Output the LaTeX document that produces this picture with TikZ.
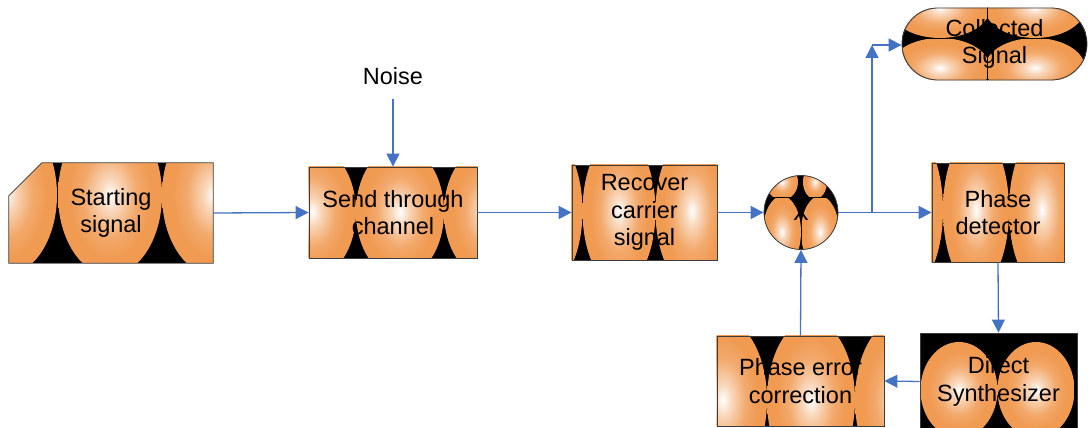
\documentclass[tikz,border=0pt]{standalone}
\usepackage{fontspec}
\setmainfont{Liberation Sans}
\usetikzlibrary{arrows.meta,backgrounds,calc}

\definecolor{orng}{RGB}{240,154,82}
\definecolor{link}{RGB}{68,114,196}
\definecolor{edge}{RGB}{60,60,60}

% soft white-to-orange blob used to fill the blocks
\pgfdeclareradialshading{blob}{\pgfpoint{0bp}{0bp}}{%
  color(0bp)=(white); color(5bp)=(orng!40!white); color(13bp)=(orng!85!white);
  color(20bp)=(orng); color(50bp)=(orng)}

% one shaded ellipse kept inside its own tile: x1 y1 x2 y2 | cx cy rx ry
\newcommand{\tileblob}[8]{%
  \begin{scope}
    \clip (#1,#2) rectangle (#3,#4);
    \shade[shading=blob] (#5,#6) ellipse ({#7pt} and {#8pt});
  \end{scope}}
% a full-height tile of half width #5 around cx
\newcommand{\blob}[5]{\tileblob{#1-#5}{-1000}{#1+#5}{1000}{#1}{#2}{#3}{#4}}
\newcommand{\darkbox}[1]{%
  \clip (#1.north west) rectangle (#1.south east);
  \fill[black] (#1.north west) rectangle (#1.south east);}

\tikzset{
  lbl/.style={font=\fontsize{23.5}{27.5}\selectfont, align=center, inner sep=0pt},
  outline/.style={draw=edge, line width=0.8pt},
  block/.style={lbl, outline, rectangle},
  seam/.style={draw=black, line width=0.6pt},
  flow/.style={draw=link, line width=1.3pt, -{Triangle[length=13pt,width=13pt]}},
}

\begin{document}
\begin{tikzpicture}[x=1pt,y=-1pt]
\useasboundingbox (0,0) rectangle (1088,428);

% blocks
\node[lbl, minimum width=204pt, minimum height=100pt] (start) at (111,213) {Starting\\signal};
\draw[outline] ($(start.north west)+(33,0)$) -- (start.north east) -- (start.south east)
  -- (start.south west) -- ($(start.north west)+(0,33)$) -- cycle;
\node[block, minimum width=168pt, minimum height=91pt] (send) at (393,212.5) {Send through\\channel};
\node[lbl] (noise) at (393,76) {Noise};
\node[block, minimum width=145pt, minimum height=95pt] (recover) at (644.5,212.5) {Recover\\carrier\\signal};
\node[lbl, outline, circle, minimum size=74pt] (mult) at (801,212.5) {X};
\node[block, minimum width=132pt, minimum height=99pt] (detector) at (998,212.5) {Phase\\detector};
\node[block, minimum width=157pt, minimum height=97pt] (synth) at (998.5,381.5) {Direct\\Synthesizer};
\node[block, minimum width=167pt, minimum height=90pt] (perr) at (800.5,381) {Phase error\\correction};
\node[block, rounded corners=36pt, minimum width=185pt, minimum height=72pt] (collected) at (994.5,44) {Collected\\Signal};

% block fills
\begin{pgfonlayer}{background}
  \begin{scope}
    \clip ($(start.north west)+(33,0)$) -- (start.north east) -- (start.south east)
      -- (start.south west) -- ($(start.north west)+(0,33)$) -- cycle;
    \fill[black] (start.north west) rectangle (start.south east);
    \blob{5}{195}{52}{80}{52}\blob{110}{195}{52}{80}{52}\blob{214}{195}{52}{80}{52}
  \end{scope}
  \begin{scope}
    \darkbox{send}
    \blob{312}{212}{44}{66}{44}\blob{400}{212}{44}{66}{44}\blob{488}{212}{44}{66}{44}
  \end{scope}
  \begin{scope}
    \darkbox{recover}
    \blob{546}{211}{36.5}{76}{36.5}\blob{619}{211}{36.5}{76}{36.5}\blob{692}{211}{36.5}{76}{36.5}
  \end{scope}
  \begin{scope}
    \darkbox{detector}
    \blob{910}{210}{33}{78}{33}\blob{976}{210}{33}{78}{33}\blob{1042}{210}{33}{78}{33}
  \end{scope}
  \begin{scope}
    \darkbox{synth}
    \blob{959}{390}{38.5}{48}{38.5}\blob{1036}{390}{38.5}{48}{38.5}
  \end{scope}
  \begin{scope}
    \darkbox{perr}
    \blob{723}{400}{44}{80}{44}\blob{811}{400}{44}{80}{44}\blob{899}{400}{44}{80}{44}
  \end{scope}
  \begin{scope}
    \clip (mult.center) circle (37pt);
    \fill[black] (mult.center) circle (37pt);
    \tileblob{760}{170}{801}{197}{782}{182}{16}{18}
    \tileblob{801}{170}{842}{197}{815}{182}{12}{17}
    \tileblob{760}{197}{801}{255}{782}{232}{19}{36}
    \tileblob{801}{197}{842}{255}{820}{232}{19}{36}
    \draw[seam] (mult.west |- 0,197) -- (mult.east |- 0,197);
    \draw[seam] (801,197) -- (mult.south);
  \end{scope}
  \begin{scope}
    \clip[rounded corners=36pt] (collected.north west) rectangle (collected.south east);
    \fill[black] (collected.north west) rectangle (collected.south east);
    \blob{940}{8}{50}{30}{47}\blob{1035}{8}{50}{30}{48}
    \blob{940}{68}{50}{30}{47}\blob{1035}{68}{50}{30}{48}
    \draw[seam] (collected.west |- 0,38) -- (collected.east |- 0,38);
    \draw[seam] (987,0) -- (987,90);
  \end{scope}
\end{pgfonlayer}

% signal flow
\coordinate (split) at (872,212.5);
\coordinate (bend) at (872,45);
\draw[flow] (start.east) -- (send.west);
\draw[flow, shorten <=14pt] (noise.south) -- (send.north);
\draw[flow] (send.east) -- (recover.west);
\draw[flow] (recover.east) -- (mult.west);
\draw[flow] (mult.east) -- (detector.west);
\draw[flow] (split) -- (bend);
\draw[flow] (bend) -- (bend -| collected.west);
\draw[flow] (detector.south) -- (synth.north);
\draw[flow] (synth.west) -- (perr.east);
\draw[flow] (perr.north) -- (mult.south);
\end{tikzpicture}
\end{document}
